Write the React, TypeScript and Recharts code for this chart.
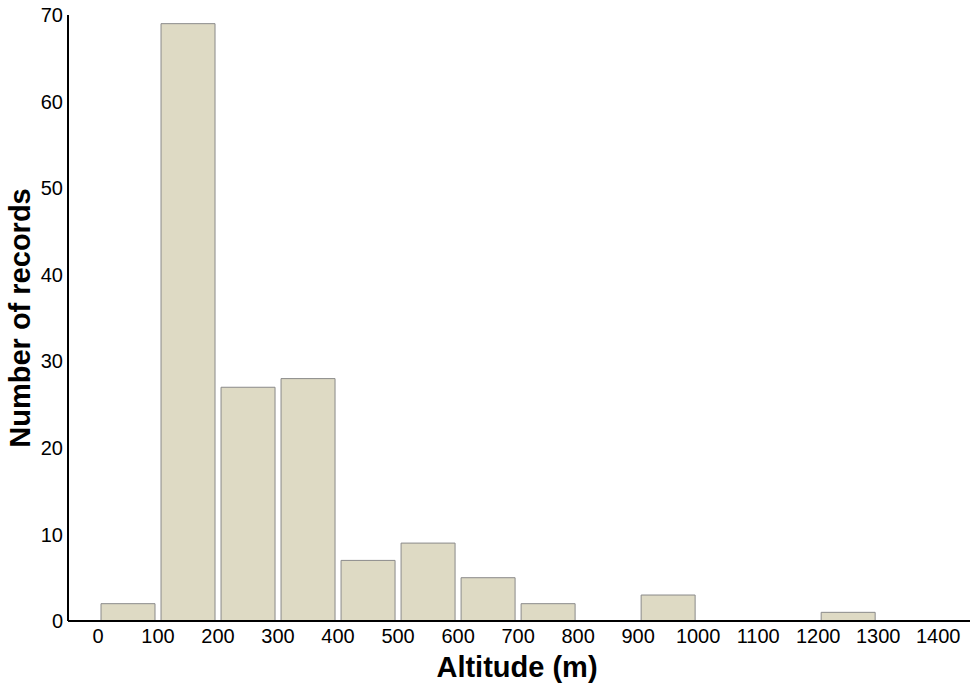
import { Bar, BarChart, Label, XAxis, YAxis } from "recharts";

// altitude bins (m), lower edge / bin centre / count
const binStarts = [0, 100, 200, 300, 400, 500, 600, 700, 800, 900, 1000, 1100, 1200, 1300];
const counts = [2, 69, 27, 28, 7, 9, 5, 2, 0, 3, 0, 0, 1, 0];
const xTicks = [0, 100, 200, 300, 400, 500, 600, 700, 800, 900, 1000, 1100, 1200, 1300, 1400];
const yTicks = [0, 10, 20, 30, 40, 50, 60, 70];

const data = binStarts.map((start, i) => ({
  mid: start + 50,
  records: counts[i],
}));

const font = "'Liberation Sans', Arial, Helvetica, sans-serif";

export default function App() {
  return (
    <div style={{ position: "absolute", left: 0, top: 0, width: 973, height: 685, background: "#fff" }}>
      <BarChart
        width={973}
        height={685}
        data={data}
        margin={{ top: 15, right: 3, bottom: 0, left: 0 }}
      >
        <XAxis
          type="number"
          dataKey="mid"
          domain={[-50, 1453]}
          ticks={xTicks}
          interval={0}
          allowDataOverflow
          height={64}
          tickLine={false}
          axisLine={{ stroke: "#000", strokeWidth: 2 }}
          tick={{ fill: "#000", fontSize: 20, fontFamily: font }}
        >
          <Label
            value="Altitude (m)"
            position="center"
            dx={-2}
            dy={14}
            style={{ fill: "#000", fontSize: 29, fontWeight: "bold", fontFamily: font }}
          />
        </XAxis>
        <YAxis
          width={68}
          domain={[0, 70]}
          ticks={yTicks}
          interval={0}
          tickLine={false}
          tickSize={3}
          axisLine={{ stroke: "#000", strokeWidth: 2 }}
          tick={{ fill: "#000", fontSize: 20, fontFamily: font }}
        >
          <Label
            value="Number of records"
            angle={-90}
            position="center"
            dx={-14}
            style={{ fill: "#000", fontSize: 29, fontWeight: "bold", fontFamily: font, textAnchor: "middle" }}
          />
        </YAxis>
        <Bar
          dataKey="records"
          barSize={54}
          fill="#dedac4"
          stroke="#8a8a8a"
          strokeWidth={1}
          isAnimationActive={false}
        />
      </BarChart>
    </div>
  );
}
